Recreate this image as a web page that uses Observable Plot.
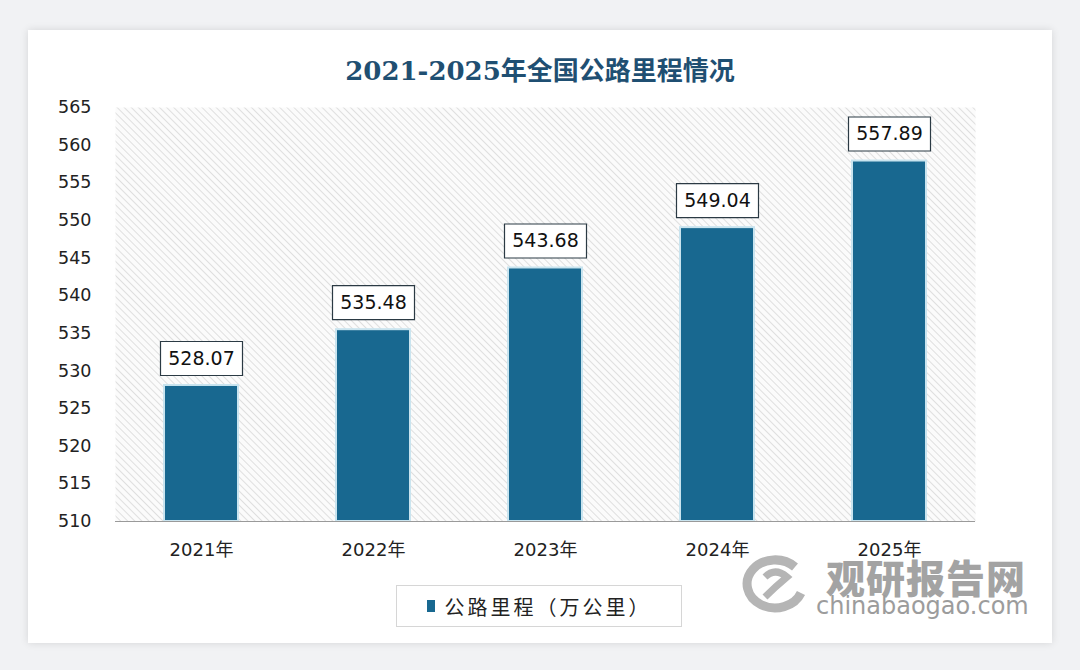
<!DOCTYPE html>
<html>
<head>
<meta charset="utf-8">
<script src="https://cdn.jsdelivr.net/npm/d3@7"></script>
<script src="https://cdn.jsdelivr.net/npm/@observablehq/plot@0.6"></script>
<style>
  html, body { margin: 0; padding: 0; }
  body { width: 1080px; height: 670px; background: #f1f2f4; position: relative; overflow: hidden;
         font-family: "DejaVu Sans", "Noto Sans CJK SC", sans-serif; }
  #card { position: absolute; left: 28px; top: 30px; width: 1024px; height: 613px; background: #ffffff;
          box-shadow: 0 0 8px rgba(0,0,0,0.12); }
  #title { position: absolute; left: 0; top: 50px; width: 1080px; text-align: center;
           font-family: "DejaVu Serif", "Noto Sans CJK SC", serif; font-weight: bold; font-size: 26px; color: #1f4f72; }
  #chart { position: absolute; left: 0; top: 90px; }
  #legend { position: absolute; left: 396px; top: 585px; width: 286px; height: 42px; border: 1px solid #d6d6d6;
            box-sizing: border-box; display: flex; align-items: center; justify-content: center;
            font-family: "Noto Sans CJK SC", sans-serif; font-size: 20px; color: #222; letter-spacing: 3px; }
  #legend .sw { width: 8px; height: 12px; background: #186890; margin-right: 10px; }
  .wm { position: absolute; font-family: "Noto Sans CJK SC", sans-serif; white-space: nowrap; }
</style>
</head>
<body>
<div id="card"></div>
<div class="wm" style="left:455px;top:285px;font-size:44px;font-weight:900;color:rgba(0,0,0,0.05);letter-spacing:2px;">观研报告网</div>
<div class="wm" style="left:448px;top:340px;font-size:24px;color:rgba(0,0,0,0.05);font-family:'DejaVu Sans';">chinabaogao.com</div>
<div id="title">2021-2025年全国公路里程情况</div>
<div id="chart"></div>
<div class="wm" style="left:826px;top:548px;font-size:39px;font-weight:900;color:#a3a3a3;letter-spacing:1px;">观研报告网</div>
<div class="wm" style="left:816px;top:592px;font-size:24px;color:#9c9c9c;font-family:'DejaVu Sans';">chinabaogao.com</div>
<svg class="wm" style="left:735px;top:553px" width="78" height="60" viewBox="0 0 78 60">
  <path d="M60 14 A28 24 0 1 0 66 40" fill="none" stroke="#b5b5b5" stroke-width="9"/>
  <path d="M30 24 Q40 14 52 24 Q40 34 30 44" fill="none" stroke="#b5b5b5" stroke-width="7"/>
</svg>
<div id="legend"><span class="sw"></span>公路里程（万公里）</div>
<script>
const years = ["2021年", "2022年", "2023年", "2024年", "2025年"];
const mileage = [528.07, 535.48, 543.68, 549.04, 557.89];
const yTicks = [510, 515, 520, 525, 530, 535, 540, 545, 550, 555, 560, 565];

const data = years.map((year, i) => ({year, value: mileage[i]}));

const boxSymbol = { draw(context) { context.rect(-41, -17, 82, 34); } };

const chart = Plot.plot({
  width: 1080,
  height: 480,
  marginTop: 17,
  marginBottom: 49,
  marginLeft: 115,
  marginRight: 105,
  style: { fontFamily: "DejaVu Sans, Noto Sans CJK SC, sans-serif", background: "transparent", color: "#222", fontSize: "17.5px" },
  x: { domain: years, paddingInner: 0.57, paddingOuter: 0.285, label: null, tickSize: 0, tickPadding: 22 },
  y: { domain: [510, 565], ticks: yTicks, label: null, tickSize: 0, tickPadding: 24 },
  marks: [
    Plot.frame({ fill: "url(#hatch)", stroke: "none" }),
    Plot.barY(data, { x: "year", y1: 510, y2: "value", fill: "#186890", stroke: "#c9e4ef", strokeWidth: 2,
                      style: "filter: drop-shadow(2px 1px 2px rgba(0,0,0,0.25))" }),
    Plot.ruleY([510], { stroke: "#9a9a9a", strokeWidth: 1.2 }),
    Plot.dot(data, { x: "year", y: "value", symbol: boxSymbol, fill: "white", stroke: "#2b3a44", strokeWidth: 1.2, dy: -27 }),
    Plot.text(data, { x: "year", y: "value", text: d => d.value.toFixed(2), dy: -27, fontSize: 19, fill: "#111" })
  ]
});

const svg = d3.select(chart);
svg.insert("defs", ":first-child").html(
  '<pattern id="hatch" patternUnits="userSpaceOnUse" width="5" height="5" patternTransform="rotate(-45)">' +
  '<rect width="5" height="5" fill="#fbfbfb"/><line x1="0" y1="0" x2="0" y2="5" stroke="#d8d8d8" stroke-width="1.6"/></pattern>'
);
svg.selectAll("g[aria-label='x-axis tick label']").attr("font-size", 18);
document.getElementById("chart").appendChild(chart);
</script>
</body>
</html>
